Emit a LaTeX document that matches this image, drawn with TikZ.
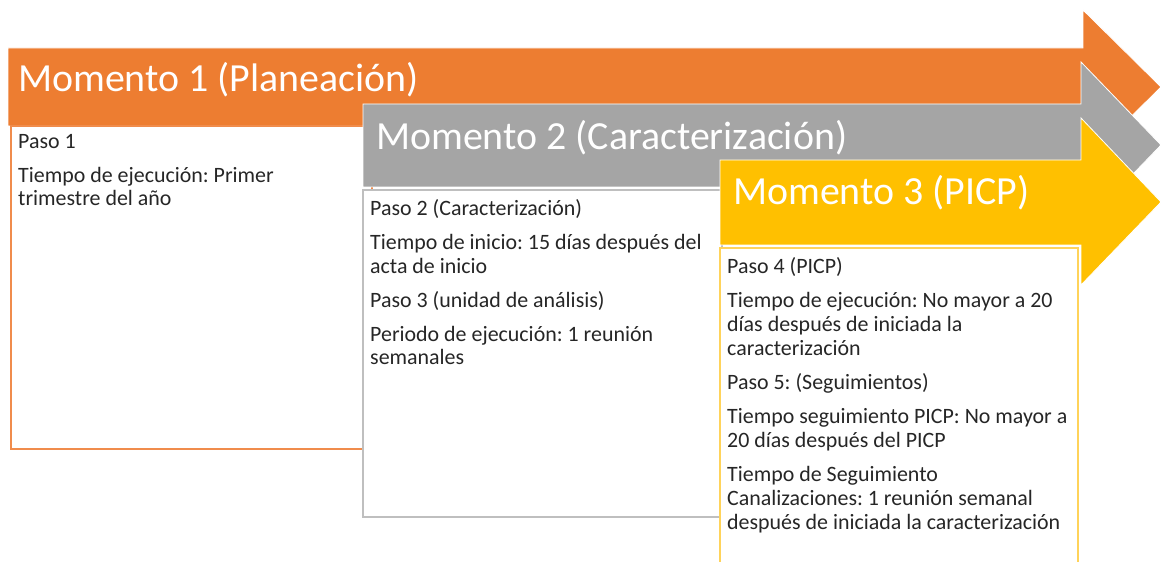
\documentclass[tikz,border=0pt]{standalone}
\usepackage{fontspec}
\setmainfont{Carlito}
\frenchspacing
\definecolor{momorange}{HTML}{ED7D31}
\definecolor{momgray}{HTML}{A5A5A5}
\definecolor{momyellow}{HTML}{FFC000}
\definecolor{lineorange}{HTML}{F08C4C}
\definecolor{linegray}{HTML}{BFBFBF}
\definecolor{lineyellow}{HTML}{FFD35A}
\tikzset{
	momento/.style={draw=white, line width=0.8bp},
	titulo/.style={anchor=base west, inner sep=0pt, text=white, font=\fontsize{40}{44}\selectfont},
	caja/.style={fill=white, line width=1.3bp},
	paso/.style={anchor=base west, inner sep=0pt, align=left, text=black!85, font=\fontsize{22}{24}\selectfont}
}

\begin{document}
\begin{tikzpicture}[x=1bp, y=-1bp]
		\useasboundingbox (0,0) rectangle (1161,562);
		
		% Momento 1 (base of a text node = its last line)
		\fill[momorange, momento] (8,48) -- (1083,48) -- (1083,10) -- (1161,87) -- (1083,164) -- (1083,126) -- (8,126) -- cycle;
		\node(m1) [titulo] at (18,92) {Momento 1 (Planeación)};
		\draw[caja, draw=lineorange] (11,126) rectangle (372,449);
		\node(p1) [paso] at (18,206) {Paso 1\\[10bp]
			Tiempo de ejecución: Primer\\
			trimestre del año};
		
		% Momento 2
		\fill[momgray, momento] (363,104) -- (1081,104) -- (1081,62) -- (1161,145) -- (1081,228) -- (1081,187) -- (363,187) -- cycle;
		\node(m2) [titulo] at (376,150) {Momento 2 (Caracterización)};
		\draw[caja, draw=linegray] (363,190) rectangle (722,517);
		\node(p2) [paso] at (370,365) {Paso 2 (Caracterización)\\[10bp]
			Tiempo de inicio: 15 días después del\\
			acta de inicio\\[10bp]
			Paso 3 (unidad de análisis)\\[10bp]
			Periodo de ejecución: 1 reunión\\
			semanales};
		
		% Momento 3
		\fill[momyellow, momento] (720,160) -- (1081,160) -- (1081,118) -- (1161,202) -- (1081,285) -- (1081,245) -- (720,245) -- cycle;
		\node(m3) [titulo] at (733,205) {Momento 3 (PICP)};
		\fill[white] (720,248) rectangle (1078,562);
		\draw[caja, draw=lineyellow] (720,563) -- (720,248) -- (1078,248) -- (1078,563);
		\node(p3) [paso] at (727,529) {Paso 4 (PICP)\\[10bp]
			Tiempo de ejecución: No mayor a 20\\
			días después de iniciada la\\
			caracterización\\[10bp]
			Paso 5: (Seguimientos)\\[10bp]
			Tiempo seguimiento PICP: No mayor a\\
			20 días después del PICP\\[10bp]
			Tiempo de Seguimiento\\
			Canalizaciones: 1 reunión semanal\\
			después de iniciada la caracterización};
		
\end{tikzpicture}
\end{document}
